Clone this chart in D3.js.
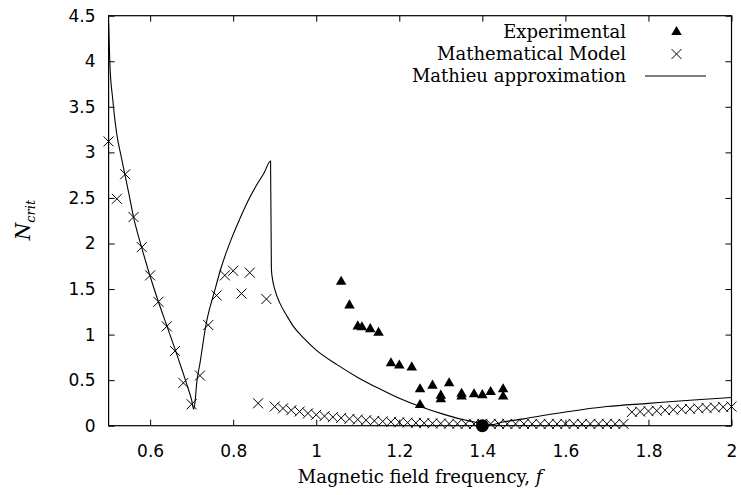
<!DOCTYPE html>
<html>
<head>
<meta charset="utf-8">
<script src="https://cdn.jsdelivr.net/npm/d3@7"></script>
<style>
  body { margin: 0; background: #fff; }
  svg { display: block; }
</style>
</head>
<body>
<div class="canvas"></div>
<script>
// ---- data ----
const expF = [1.06, 1.08, 1.10, 1.11, 1.13, 1.15, 1.18, 1.20, 1.23, 1.25, 1.25, 1.28, 1.30, 1.30, 1.32, 1.35, 1.35, 1.38, 1.40, 1.42, 1.45, 1.45];
const expN = [1.58, 1.32, 1.09, 1.08, 1.06, 1.02, 0.685, 0.66, 0.64, 0.40, 0.227, 0.44, 0.33, 0.29, 0.465, 0.35, 0.32, 0.345, 0.335, 0.37, 0.40, 0.32];

const modelF = [0.50, 0.52, 0.54, 0.56, 0.58, 0.60, 0.62, 0.64, 0.66, 0.68, 0.70, 0.72, 0.74, 0.76, 0.78, 0.80, 0.82, 0.84, 0.86, 0.88,
  0.90, 0.92, 0.94, 0.96, 0.98, 1.00, 1.02, 1.04, 1.06, 1.08, 1.10, 1.12, 1.14, 1.16, 1.18, 1.20, 1.22, 1.24, 1.26, 1.28, 1.30,
  1.32, 1.34, 1.36, 1.38, 1.40, 1.42, 1.44, 1.46, 1.48, 1.50, 1.52, 1.54, 1.56, 1.58, 1.60, 1.62, 1.64, 1.66, 1.68, 1.70, 1.72, 1.74,
  1.76, 1.78, 1.80, 1.82, 1.84, 1.86, 1.88, 1.90, 1.92, 1.94, 1.96, 1.98, 2.00];
const modelN = [3.12, 2.49, 2.76, 2.29, 1.96, 1.65, 1.36, 1.09, 0.82, 0.47, 0.235, 0.55, 1.105, 1.43, 1.65, 1.70, 1.45, 1.68, 0.246, 1.39,
  0.21, 0.19, 0.17, 0.155, 0.135, 0.12, 0.105, 0.095, 0.085, 0.075, 0.068, 0.06, 0.053, 0.047, 0.042, 0.038, 0.034, 0.031, 0.028, 0.026, 0.024,
  0.022, 0.021, 0.02, 0.02, 0.02, 0.02, 0.02, 0.02, 0.02, 0.02, 0.02, 0.02, 0.02, 0.02, 0.02, 0.02, 0.02, 0.02, 0.02, 0.02, 0.02, 0.02,
  0.15, 0.155, 0.16, 0.165, 0.17, 0.175, 0.18, 0.185, 0.19, 0.195, 0.20, 0.205, 0.21];

const mathieuF = [0.500, 0.503, 0.510, 0.519, 0.530, 0.540, 0.550, 0.560, 0.570, 0.580, 0.600, 0.620, 0.640, 0.660, 0.680, 0.690, 0.700, 0.705,
  0.709, 0.712, 0.720, 0.735, 0.756, 0.770, 0.784, 0.800, 0.816, 0.835, 0.855, 0.875, 0.890,
  0.892, 0.895, 0.900, 0.913, 0.930, 0.945, 0.970, 1.00, 1.05, 1.10, 1.15, 1.20, 1.25, 1.30, 1.35, 1.38, 1.40, 1.42,
  1.45, 1.50, 1.55, 1.60, 1.70, 1.80, 1.90, 2.00];
const mathieuN = [4.42, 3.98, 3.58, 3.22, 2.96, 2.74, 2.52, 2.29, 2.11, 1.95, 1.64, 1.36, 1.10, 0.84, 0.57, 0.43, 0.28, 0.18,
  0.30, 0.46, 0.685, 1.12, 1.49, 1.72, 1.91, 2.10, 2.27, 2.46, 2.63, 2.78, 2.905,
  1.72, 1.60, 1.50, 1.34, 1.20, 1.09, 0.96, 0.83, 0.67, 0.53, 0.41, 0.30, 0.21, 0.135, 0.07, 0.04, 0.02, 0.01,
  0.04, 0.075, 0.115, 0.15, 0.21, 0.245, 0.28, 0.31];

const markF = [1.40];
const markN = [0];

const xTicks = [0.6, 0.8, 1, 1.2, 1.4, 1.6, 1.8, 2];
const yTicks = [0, 0.5, 1, 1.5, 2, 2.5, 3, 3.5, 4, 4.5];
const legendLabels = ['Experimental', 'Mathematical Model', 'Mathieu approximation'];

// ---- layout ----
const width = 741, height = 495;
const margin = { top: 15.7, right: 9.5, bottom: 69.3, left: 108.6 };
const innerW = width - margin.left - margin.right;
const innerH = height - margin.top - margin.bottom;

const svg = d3.select('.canvas')
  .append('svg')
  .attr('width', width)
  .attr('height', height);

const graph = svg.append('g')
  .attr('transform', `translate(${margin.left}, ${margin.top})`);

const x = d3.scaleLinear().domain([0.5, 2]).range([0, innerW]);
const y = d3.scaleLinear().domain([0, 4.5]).range([innerH, 0]);

const tickFont = 'DejaVu Sans, sans-serif';
const serifFont = 'DejaVu Serif, serif';

// axes, ticks point inwards and are mirrored on top/right
const fmt = d3.format('~g');
const xAxis = graph.append('g')
  .attr('transform', `translate(0, ${innerH})`)
  .call(d3.axisBottom(x).tickValues(xTicks).tickSize(-6).tickFormat(fmt));
xAxis.selectAll('text').attr('y', 19).attr('dy', '0.71em');

const yAxis = graph.append('g')
  .call(d3.axisLeft(y).tickValues(yTicks).tickSize(-6).tickFormat(fmt));
yAxis.selectAll('text').attr('x', -13);

graph.append('g')
  .call(d3.axisTop(x).tickValues(xTicks).tickSize(-6).tickFormat(''));
graph.append('g')
  .attr('transform', `translate(${innerW}, 0)`)
  .call(d3.axisRight(y).tickValues(yTicks).tickSize(-6).tickFormat(''));

graph.selectAll('.domain').remove();
graph.selectAll('.tick line').attr('stroke', '#000').attr('stroke-width', 1);
graph.selectAll('.tick text')
  .attr('fill', '#000')
  .style('font-family', tickFont)
  .style('font-size', '17px');

// frame
graph.append('rect')
  .attr('width', innerW)
  .attr('height', innerH)
  .attr('fill', 'none')
  .attr('stroke', '#000')
  .attr('stroke-width', 1.2);

// Mathieu approximation line
const mathieu = mathieuF.map((f, i) => [f, mathieuN[i]]);
graph.append('path')
  .datum(mathieu)
  .attr('fill', 'none')
  .attr('stroke', '#000')
  .attr('stroke-width', 1.1)
  .attr('d', d3.line().curve(d3.curveMonotoneX).x(d => x(d[0])).y(d => y(d[1])));

// model crosses
const cross = (sel, r) => sel.append('path')
  .attr('d', `M${-r},${-r}L${r},${r}M${-r},${r}L${r},${-r}`)
  .attr('stroke', '#000')
  .attr('stroke-width', 1)
  .attr('fill', 'none');

const model = modelF.map((f, i) => [f, modelN[i]]);
graph.selectAll('.model')
  .data(model)
  .enter()
  .append('g')
  .attr('class', 'model')
  .attr('transform', d => `translate(${x(d[0])}, ${y(d[1])})`)
  .call(g => cross(g, 5));

// experimental triangles
const tri = d3.symbol().type(d3.symbolTriangle).size(48);
const exp = expF.map((f, i) => [f, expN[i]]);
graph.selectAll('.exp')
  .data(exp)
  .enter()
  .append('path')
  .attr('class', 'exp')
  .attr('transform', d => `translate(${x(d[0])}, ${y(d[1])})`)
  .attr('d', tri)
  .attr('fill', '#000');

// big dot on the axis
graph.selectAll('.mark')
  .data(markF.map((f, i) => [f, markN[i]]))
  .enter()
  .append('circle')
  .attr('cx', d => x(d[0]))
  .attr('cy', d => y(d[1]))
  .attr('r', 6.5)
  .attr('fill', '#000');

// legend
const legend = svg.append('g');
const rows = [32, 54, 76];
legendLabels.forEach((lab, i) => {
  legend.append('text')
    .attr('x', 626)
    .attr('y', rows[i] + 6)
    .attr('text-anchor', 'end')
    .style('font-family', serifFont)
    .style('font-size', '18px')
    .attr('fill', '#000')
    .text(lab);
});
legend.append('path')
  .attr('transform', `translate(676.5, ${rows[0]})`)
  .attr('d', tri)
  .attr('fill', '#000');
cross(legend.append('g').attr('transform', `translate(676.5, ${rows[1]})`), 5);
legend.append('line')
  .attr('x1', 645).attr('x2', 706)
  .attr('y1', rows[2]).attr('y2', rows[2])
  .attr('stroke', '#000')
  .attr('stroke-width', 1.1);

// axis titles
const xTitle = svg.append('text')
  .attr('x', margin.left + innerW / 2)
  .attr('y', 483)
  .attr('text-anchor', 'middle')
  .style('font-family', serifFont)
  .style('font-size', '18px')
  .attr('fill', '#000');
xTitle.append('tspan').text('Magnetic field frequency, ');
xTitle.append('tspan').style('font-style', 'italic').text('f');

const yTitle = svg.append('text')
  .attr('transform', 'translate(30, 220) rotate(-90)')
  .attr('text-anchor', 'middle')
  .style('font-family', serifFont)
  .attr('fill', '#000');
yTitle.append('tspan').style('font-style', 'italic').style('font-size', '20px').text('N');
yTitle.append('tspan').style('font-style', 'italic').style('font-size', '13px').attr('dy', 5).text('crit');
</script>
</body>
</html>
